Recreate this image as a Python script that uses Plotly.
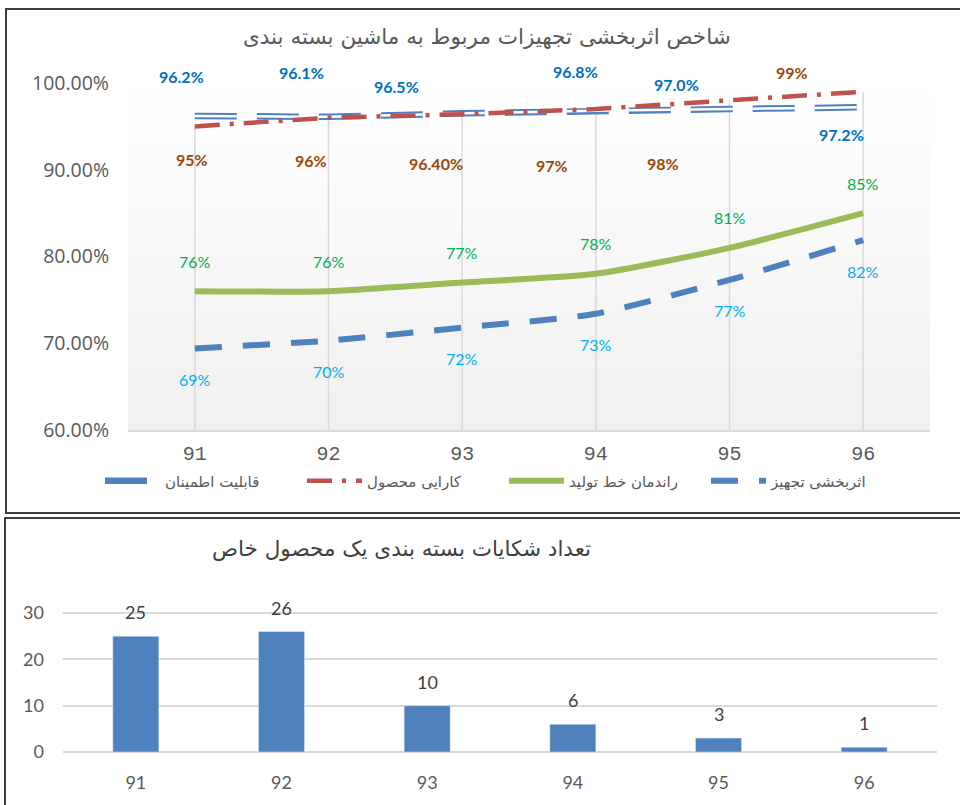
import plotly.graph_objects as go

# ---------------- data ----------------
years = ["91", "92", "93", "94", "95", "96"]
reliability = [96.2, 96.1, 96.5, 96.8, 97.0, 97.2]      # قابلیت اطمینان
efficiency = [95, 96, 96.4, 97, 98, 99]                  # کارایی محصول
line_yield = [76, 76, 77, 78, 81, 85]                    # راندمان خط تولید
oee = [69.4, 70.3, 71.8, 73.4, 77.3, 81.9]               # اثربخشی تجهیز
complaints = [25, 26, 10, 6, 3, 1]                       # تعداد شکایات

rel_labels = ["96.2%", "96.1%", "96.5%", "96.8%", "97.0%", "97.2%"]
eff_labels = ["95%", "96%", "96.40%", "97%", "98%", "99%"]
yield_labels = [f"{v:.0f}%" for v in line_yield]
oee_labels = [f"{v:.0f}%" for v in oee]
y_ticks = [60, 70, 80, 90, 100]
y_ticktext = [f"{v:.2f}%" for v in y_ticks]
y2_ticks = [0, 10, 20, 30]

names = ["قابلیت اطمینان", "کارایی محصول", "راندمان خط تولید", "اثربخشی تجهیز"]
title_top = "شاخص اثربخشی تجهیزات مربوط به ماشین بسته بندی"
title_bottom = "تعداد شکایات بسته بندی یک محصول خاص"

# ---------------- style (label offsets in px: dx, dy-down) ----------------
rel_off = [(-13, -39), (-27, -44), (-66, -27), (-20, -39), (-53, -25), (-22, 27)]
eff_off = [(-3, 33), (-18, 43), (-26, 49), (-44, 56), (-67, 63), (-71, -19)]
yield_off = (0, -30)
oee_off = (0, 31)

W, H = 960, 805
def px(x):
    return x / W
def py(y):
    return 1 - y / H

FONT_NUM = "Liberation Sans Narrow, Lato, sans-serif"
FONT_FA = "DejaVu Sans, sans-serif"
GRAY = "#595959"

fig = go.Figure()

# drop lines (from the efficiency series down to the axis)
dx, dy = [], []
for c, v in zip(years, efficiency):
    dx += [c, c, None]
    dy += [y_ticks[0], v, None]
fig.add_trace(go.Scatter(x=dx, y=dy, mode="lines", line=dict(color="#D9D9D9", width=1.5),
                         showlegend=False, hoverinfo="skip", xaxis="x", yaxis="y"))

# reliability: compound (double) line => thick blue + thin white on top
fig.add_trace(go.Scatter(x=years, y=reliability, mode="lines", name=names[0],
                         line=dict(color="#4F81BD", width=6.5, dash="42px,20px"),
                         xaxis="x", yaxis="y"))
fig.add_trace(go.Scatter(x=years, y=reliability, mode="lines", showlegend=False,
                         line=dict(color="white", width=2.5, dash="42px,20px"),
                         hoverinfo="skip", xaxis="x", yaxis="y"))
fig.add_trace(go.Scatter(x=years, y=efficiency, mode="lines", name=names[1],
                         line=dict(color="#C0504D", width=4.5, dash="25px,10px,4px,10px"),
                         xaxis="x", yaxis="y"))
fig.add_trace(go.Scatter(x=years, y=line_yield, mode="lines", name=names[2],
                         line=dict(color="#9BBB59", width=6, shape="spline", smoothing=0.6),
                         xaxis="x", yaxis="y"))
fig.add_trace(go.Scatter(x=years, y=oee, mode="lines", name=names[3],
                         line=dict(color="#4F81BD", width=6, dash="27px,21px",
                                   shape="spline", smoothing=0.6),
                         xaxis="x", yaxis="y"))

# bars
fig.add_trace(go.Bar(x=years, y=complaints, width=0.316, marker=dict(color="#4F81BD"),
                     showlegend=False, xaxis="x2", yaxis="y2"))

annotations = []
def add_labels(vals, texts, offs, color, bold):
    for i, (v, t) in enumerate(zip(vals, texts)):
        o = offs[i] if isinstance(offs, list) else offs
        annotations.append(dict(x=i, y=v, xref="x", yref="y", text=f"<b>{t}</b>" if bold else t,
                                showarrow=False, xanchor="center", yanchor="middle",
                                xshift=o[0], yshift=-o[1],
                                font=dict(family=FONT_NUM, size=16, color=color)))

add_labels(reliability, rel_labels, rel_off, "#0070C0", True)
add_labels(efficiency, eff_labels, eff_off, "#984807", True)
add_labels(line_yield, yield_labels, yield_off, "#00B050", False)
add_labels(oee, oee_labels, oee_off, "#00B0F0", False)

for i, v in enumerate(complaints):
    annotations.append(dict(x=i, y=v, xref="x2", yref="y2", text=str(v), showarrow=False,
                            xanchor="center", yanchor="bottom", yshift=11,
                            font=dict(family=FONT_NUM, size=18, color="#404040")))

annotations.append(dict(x=px(487), y=py(36), xref="paper", yref="paper", text=title_top,
                        showarrow=False, xanchor="center", yanchor="middle",
                        font=dict(family=FONT_FA, size=21.5, color=GRAY)))
annotations.append(dict(x=px(401), y=py(548), xref="paper", yref="paper", text=title_bottom,
                        showarrow=False, xanchor="center", yanchor="middle",
                        font=dict(family=FONT_FA, size=21.5, color="#404040")))

# gradient background for top plot area
shapes = []
n = 40
for i in range(n):
    f = (i + 0.5) / n  # 0 bottom -> 1 top
    g = int(round(240 + (255 - 240) * f))
    shapes.append(dict(type="rect", xref="x domain", yref="y domain", x0=0, x1=1,
                       y0=i / n, y1=(i + 1) / n, fillcolor=f"rgb({g},{g},{g})",
                       line=dict(width=0), layer="below"))
# panel borders
shapes.append(dict(type="rect", xref="paper", yref="paper", x0=px(6), x1=1.02,
                   y0=py(513), y1=py(9), line=dict(color="#404040", width=2),
                   fillcolor="rgba(0,0,0,0)", layer="below"))
shapes.append(dict(type="rect", xref="paper", yref="paper", x0=px(5), x1=1.02,
                   y0=-0.02, y1=py(518), line=dict(color="#000000", width=1.5),
                   fillcolor="rgba(0,0,0,0)", layer="below"))

fig.update_layout(
    width=W, height=H,
    margin=dict(l=0, r=0, t=0, b=0, autoexpand=False),
    paper_bgcolor="white", plot_bgcolor="rgba(0,0,0,0)",
    annotations=annotations, shapes=shapes,
    legend=dict(orientation="h", x=px(100), xanchor="left", y=py(481), yanchor="middle",
                font=dict(family=FONT_FA, size=15, color=GRAY), bgcolor="rgba(0,0,0,0)",
                entrywidth=132, itemwidth=55),
    xaxis=dict(domain=[px(128), px(930)], anchor="y", type="category", range=[-0.5, 5.5],
               showgrid=False, showline=True, linecolor="#D9D9D9", linewidth=2,
               ticks="", tickfont=dict(family="Liberation Mono, monospace", size=20, color=GRAY),
               ticklabelstandoff=4),
    yaxis=dict(domain=[py(430), py(83)], anchor="x", range=[60, 100],
               tickvals=y_ticks, ticktext=y_ticktext, showgrid=False, zeroline=False,
               showline=False, ticks="",
               tickfont=dict(family="Open Sans, sans-serif", size=19.5, color=GRAY),
               ticklabelstandoff=18),
    xaxis2=dict(domain=[px(63), px(937)], anchor="y2", type="category", range=[-0.5, 5.5],
                showgrid=False, showline=False, ticks="",
                tickfont=dict(family=FONT_NUM, size=18, color=GRAY), ticklabelstandoff=18),
    yaxis2=dict(domain=[py(752), py(752 - 32 * 4.633)], anchor="x2", range=[0, 32],
                tickvals=y2_ticks, showgrid=True, gridcolor="#D9D9D9", gridwidth=2,
                zeroline=True, zerolinecolor="#D9D9D9", zerolinewidth=2, showline=False,
                ticks="", tickfont=dict(family=FONT_NUM, size=18, color=GRAY),
                ticklabelstandoff=18),
    showlegend=True,
)

fig.write_html("out.html", config={"displayModeBar": False},
               post_script="document.body.style.margin='0';")
